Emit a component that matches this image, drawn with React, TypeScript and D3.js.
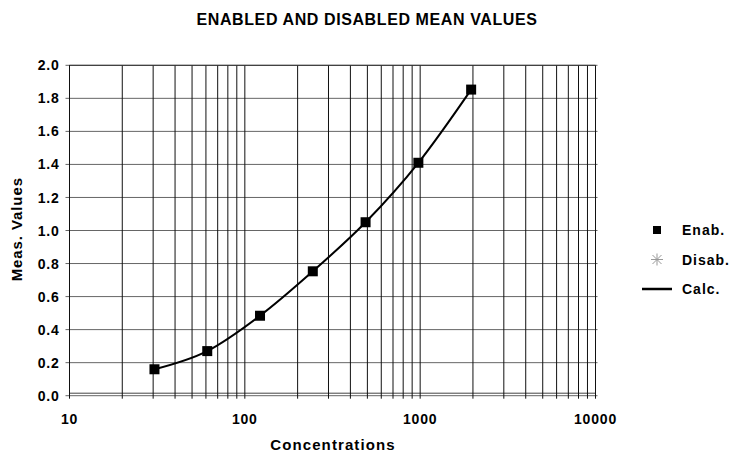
import React from "react";
import * as d3 from "d3";

const concentrations = [30.52, 61.04, 122.07, 244.14, 488.28, 976.56, 1953.13];
const enabValues = [0.16, 0.27, 0.484, 0.753, 1.05, 1.41, 1.853];
const calcValues = [0.16, 0.27, 0.484, 0.753, 1.05, 1.41, 1.853];
const disabValues: number[] = [];
const yTicks = [0, 0.2, 0.4, 0.6, 0.8, 1.0, 1.2, 1.4, 1.6, 1.8, 2.0];
const xTickLabels = [10, 100, 1000, 10000];
const legendItems = ["Enab.", "Disab.", "Calc."];

const W = 734;
const H = 455;
const font = "'Liberation Sans', Arial, sans-serif";

export default function App() {
  const x = d3.scaleLog().domain([10, 10000]).range([69.5, 595.5]);
  const y = d3.scaleLinear().domain([0, 2]).range([395.7, 65.3]);

  const minor: number[] = [];
  for (let dec = 10; dec < 10000; dec *= 10) {
    for (let k = 1; k <= 9; k++) minor.push(dec * k);
  }
  minor.push(10000);

  const line = d3
    .line<number>()
    .x((_, i) => x(concentrations[i]))
    .y((v) => y(v))
    .curve(d3.curveMonotoneX);

  const left = x(10);
  const right = x(10000);
  const top = y(2);
  const bottom = y(0);

  return (
    <svg
      width={W}
      height={H}
      style={{ position: "absolute", left: 0, top: 0, background: "#fff" }}
      fontFamily={font}
    >
      <rect x={0} y={0} width={W} height={H} fill="#fff" />
      <text x={367} y={25} textAnchor="middle" fontSize={16} fontWeight="bold" letterSpacing={0.6}>
        ENABLED AND DISABLED MEAN VALUES
      </text>

      {/* horizontal gridlines */}
      {yTicks.map((t) => (
        <g key={"h" + t}>
          <line x1={left - 4} x2={right + 2} y1={y(t)} y2={y(t)} stroke="#666" strokeWidth={1} />
          <text
            x={left - 10}
            y={y(t)}
            dy="0.36em"
            textAnchor="end"
            fontSize={14}
            fontWeight="bold"
            letterSpacing={0.8}
          >
            {t.toFixed(1)}
          </text>
        </g>
      ))}
      <line x1={left} x2={right} y1={bottom - 2.5} y2={bottom - 2.5} stroke="#444" strokeWidth={1} />

      {/* vertical gridlines */}
      {minor.map((v) => (
        <line
          key={"v" + v}
          x1={x(v)}
          x2={x(v)}
          y1={top}
          y2={bottom + 3}
          stroke="#111"
          strokeWidth={1}
        />
      ))}
      {xTickLabels.map((v) => (
        <text
          key={"xl" + v}
          x={x(v)}
          y={424}
          textAnchor="middle"
          fontSize={14}
          fontWeight="bold"
          letterSpacing={0.8}
        >
          {v}
        </text>
      ))}

      {/* frame */}
      <line x1={left} x2={right} y1={top} y2={top} stroke="#333" strokeWidth={1} />
      <line x1={left} x2={left} y1={top} y2={bottom} stroke="#111" strokeWidth={1} />

      {/* calc line */}
      <path d={line(calcValues) || ""} fill="none" stroke="#000" strokeWidth={2} />

      {/* enabled points */}
      {enabValues.map((v, i) => (
        <rect
          key={"p" + i}
          x={x(concentrations[i]) - 5}
          y={y(v) - 5}
          width={10}
          height={10}
          fill="#000"
        />
      ))}
      {disabValues.map((v, i) => (
        <circle key={"d" + i} cx={x(concentrations[i])} cy={y(v)} r={3} fill="#999" />
      ))}

      {/* axis titles */}
      <text
        transform={`translate(17,${(176.7 + 281.7) / 2}) rotate(-90)`}
        textAnchor="middle"
        dy="0.36em"
        fontSize={15}
        fontWeight="bold"
        letterSpacing={0.9}
      >
        Meas. Values
      </text>
      <text x={333} y={450} textAnchor="middle" fontSize={15} fontWeight="bold" letterSpacing={1.1}>
        Concentrations
      </text>

      {/* legend */}
      {legendItems.map((name, i) => {
        const ly = 230 + i * 29.5;
        return (
          <g key={name}>
            {i === 0 && <rect x={653} y={ly - 4} width={8} height={8} fill="#000" />}
            {i === 1 && (
              <g stroke="#999" strokeWidth={1}>
                <line x1={651} x2={663} y1={ly} y2={ly} />
                <line x1={657} x2={657} y1={ly - 6} y2={ly + 6} />
                <line x1={652.5} x2={661.5} y1={ly - 4.5} y2={ly + 4.5} />
                <line x1={652.5} x2={661.5} y1={ly + 4.5} y2={ly - 4.5} />
              </g>
            )}
            {i === 2 && <line x1={642} x2={672} y1={ly} y2={ly} stroke="#000" strokeWidth={2.5} />}
            <text x={682} y={ly} dy="0.36em" fontSize={14} fontWeight="bold" letterSpacing={1}>
              {name}
            </text>
          </g>
        );
      })}
    </svg>
  );
}
